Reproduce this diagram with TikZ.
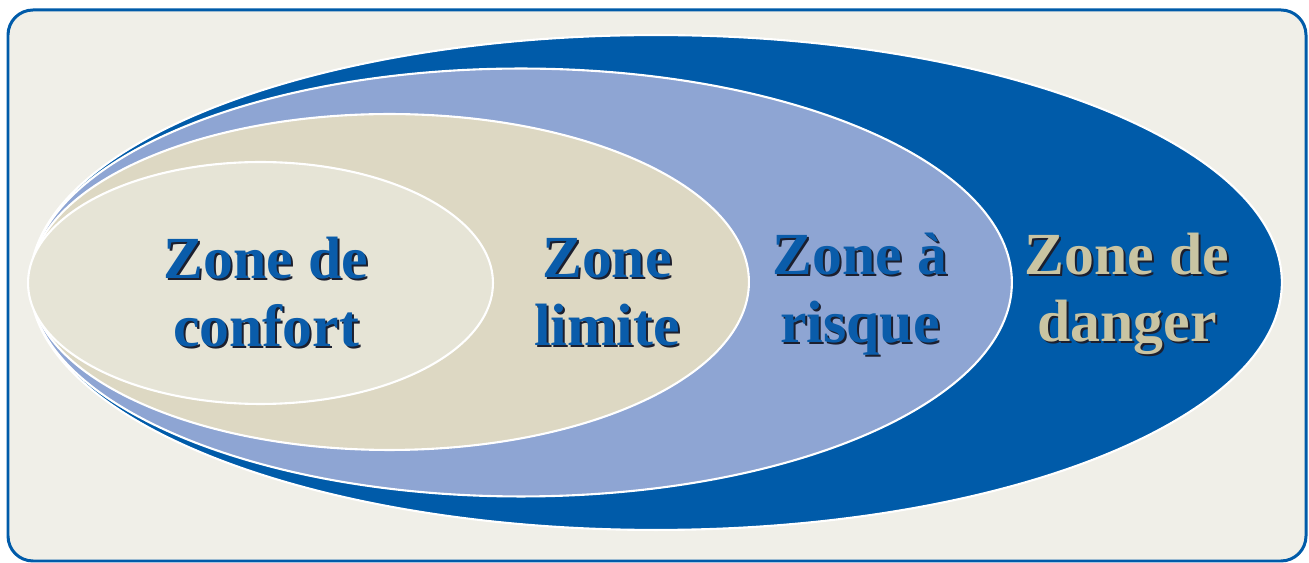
\documentclass[tikz,border=0pt]{standalone}
\usepackage{fontspec}
\setmainfont{Liberation Serif}
\definecolor{bgc}{HTML}{F0EFE8}
\definecolor{dblue}{HTML}{005BA9}
\definecolor{lblue}{HTML}{8EA5D3}
\definecolor{beigec}{HTML}{DDD8C3}
\definecolor{innerc}{HTML}{E6E4D6}
\definecolor{tblue}{HTML}{0A5CAA}
\definecolor{tbeige}{HTML}{C9C4A2}
\definecolor{shad}{HTML}{1C1F2E}
\begin{document}
\begin{tikzpicture}[x=0.02cm,y=-0.02cm,
  zone/.style={draw=white,line width=1.2pt},
  lbl/.style={align=center,font=\fontsize{34}{38.5}\selectfont\bfseries,inner sep=0pt},
  shadowlbl/.style={lbl,text=shad}]
\useasboundingbox (0,0) rectangle (1309,563);
\draw[fill=bgc,draw=dblue,line width=1.7pt,rounded corners=0.5cm] (8,10) rectangle (1306,561);
\fill[dblue,draw=white,line width=1.2pt] (656,282.5) ellipse [x radius=12.52cm,y radius=4.95cm];
\fill[lblue,zone] (521,282.5) ellipse [x radius=9.82cm,y radius=4.28cm];
\fill[beigec,zone] (389.5,282) ellipse [x radius=7.19cm,y radius=3.36cm];
\fill[innerc,zone] (260.5,283) ellipse [x radius=4.65cm,y radius=2.42cm];
\node[shadowlbl] (s1) at (268,294) {Zone de\\confort};
\node[lbl,text=tblue] (t1) at (266,292) {Zone de\\confort};
\node[shadowlbl] (s2) at (609,294) {Zone\\limite};
\node[lbl,text=tblue] (t2) at (607,292) {Zone\\limite};
\node[shadowlbl] (s3) at (862,296) {Zone à\\risque};
\node[lbl,text=tblue] (t3) at (860,294) {Zone à\\risque};
\node[shadowlbl] (s4) at (1129,296) {Zone de\\danger};
\node[lbl,text=tbeige] (t4) at (1127,294) {Zone de\\danger};
\end{tikzpicture}
\end{document}
